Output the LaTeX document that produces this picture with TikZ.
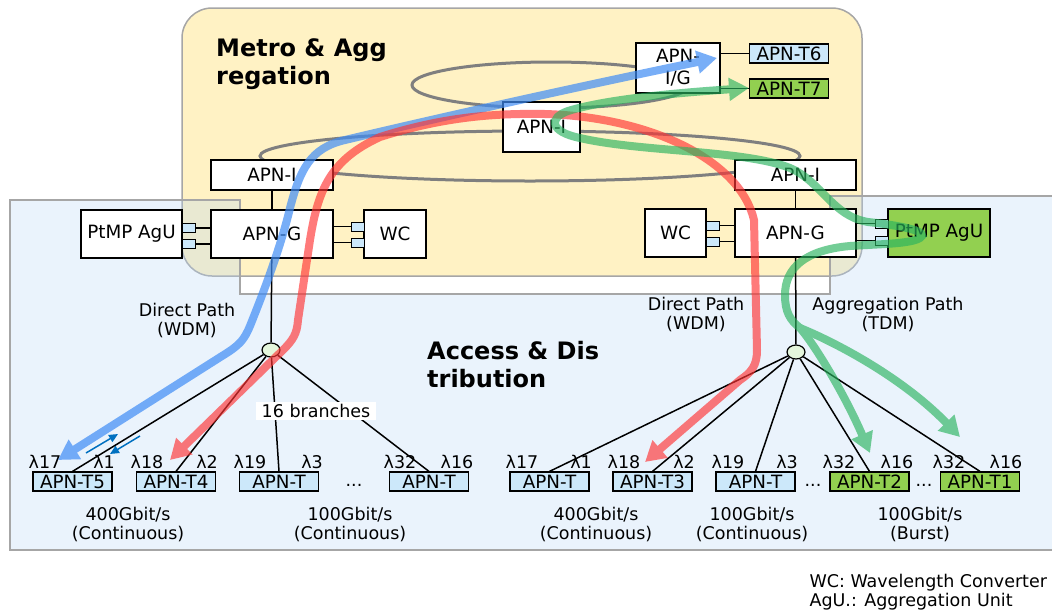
\documentclass[tikz,border=0pt]{standalone}
\usepackage{fontspec}
\setmainfont{DejaVu Sans}
\usetikzlibrary{arrows.meta,shapes.geometric}
\definecolor{metroyel}{HTML}{FFF2C4}
\definecolor{accblue}{HTML}{B9D7F5}
\definecolor{rim}{HTML}{A6A6A6}
\definecolor{ring}{HTML}{7F7F7F}
\definecolor{tblue}{HTML}{CCE8FA}
\definecolor{tgreen}{HTML}{92D050}
\definecolor{splitfill}{HTML}{E4F6DC}
\definecolor{pathblue}{HTML}{3F8CF5}
\definecolor{pathred}{HTML}{FF3333}
\definecolor{pathgreen}{HTML}{29B35E}
\definecolor{dirblue}{HTML}{0070C0}

\begin{document}
\begin{tikzpicture}[x=1pt, y=-1pt,
  txt/.style={font=\fontsize{17.5}{19}\selectfont},
  areatitle/.style={font=\fontsize{24}{28}\selectfont\bfseries, align=left, anchor=west, inner sep=0pt},
  apn/.style={font=\fontsize{18.3}{22}\selectfont, draw, line width=1.2pt, fill=white, inner sep=0pt},
  apnt/.style={apn, fill=tblue, minimum width=79pt, minimum height=19pt},
  port/.style={draw, line width=1pt, fill=tblue, minimum width=13pt, minimum height=9pt, inner sep=0pt},
  split/.style={ellipse, draw, line width=1.2pt, fill=splitfill, minimum width=18pt, minimum height=14pt, inner sep=0pt},
  wire/.style={line width=1.5pt},
  lam/.style={txt, inner sep=0pt},
  flow/.style={line width=8pt},
  bigtip/.tip={Triangle[length=20pt, width=22pt]}
]
\useasboundingbox (0,0) rectangle (1052,611);

% Areas
\draw[rim, line width=1.5pt, fill=metroyel, rounded corners=30pt] (182,8) rectangle (862,276);
\fill[accblue, fill opacity=0.3] (10,200) -- (240,200) -- (240,294) -- (830,294) -- (830,196) -- (1060,196) -- (1060,550) -- (10,550) -- cycle;
\draw[rim, line width=1.5pt] (10,200) -- (240,200) -- (240,294) -- (830,294) -- (830,196) -- (1060,196) -- (1060,550) -- (10,550) -- cycle;
\node[areatitle] (metro) at (216,64) {Metro \& Agg\\regation};
\node[areatitle] (access) at (427,365) {Access \& Dis\\tribution};

% Rings
\draw[ring, line width=3pt] (551,85) ellipse [x radius=139pt, y radius=23pt];
\draw[ring, line width=3pt] (530,156) ellipse [x radius=270pt, y radius=25pt];

% Metro nodes
\node[apn, minimum width=84pt, minimum height=50pt, align=center] (apnIG) at (678,68) {APN-\\I/G};
\node[apnt] (t6) at (789,53.5) {APN-T6};
\node[apnt, fill=tgreen] (t7) at (789,88.5) {APN-T7};
\draw[wire] (apnIG.east |- t6) -- (t6.west);
\draw[wire] (apnIG.east |- t7) -- (t7.west);
\node[apn, minimum width=77pt, minimum height=50pt] (apnIc) at (541.5,127) {APN-I};

% Left edge node
\node[apn, minimum width=122pt, minimum height=30pt] (apnIl) at (272,175) {APN-I};
\node[apn, minimum width=122pt, minimum height=48pt] (apnGl) at (272,234) {APN-G};
\node[apn, minimum width=101pt, minimum height=48pt] (agul) at (131.5,234) {PtMP AgU};
\node[apn, minimum width=62pt, minimum height=48pt] (wcl) at (395,234) {WC};
\draw[wire] (apnIl) -- (apnGl);
\node[port] (pl1) at (188.5,228) {};
\node[port] (pl2) at (188.5,244) {};
\node[port] (pw1) at (357.5,226.5) {};
\node[port] (pw2) at (357.5,242.5) {};
\draw[wire] (pl1.east) -- (pl1.east -| apnGl.west);
\draw[wire] (pl2.east) -- (pl2.east -| apnGl.west);
\draw[wire] (apnGl.east |- pw1) -- (pw1.west);
\draw[wire] (apnGl.east |- pw2) -- (pw2.west);

% Right edge node
\node[apn, minimum width=121pt, minimum height=30pt] (apnIr) at (795.5,175) {APN-I};
\node[apn, minimum width=121pt, minimum height=48pt] (apnGr) at (795.5,233) {APN-G};
\node[apn, minimum width=61pt, minimum height=48pt] (wcr) at (675.5,233) {WC};
\node[apn, minimum width=102pt, minimum height=48pt, fill=tgreen] (agur) at (939,233) {PtMP AgU};
\draw[wire] (apnIr) -- (apnGr);
\node[port] (pr1) at (712.5,225.5) {};
\node[port] (pr2) at (712.5,241.5) {};
\node[port] (pg1) at (881.5,223.5) {};
\node[port] (pg2) at (881.5,240.5) {};
\draw[wire] (pr1.east) -- (pr1.east -| apnGr.west);
\draw[wire] (pr2.east) -- (pr2.east -| apnGr.west);
\draw[wire] (apnGr.east |- pg1) -- (pg1.west);
\draw[wire] (apnGr.east |- pg2) -- (pg2.west);

% Splitters
\node[split] (spl) at (271,350) {};
\node[split] (spr) at (796,352) {};
\draw[wire] (apnGl) -- (spl);
\draw[wire] (apnGr) -- (spr);

% Left terminals
\node[apnt] (t5) at (72.5,481.5) {APN-T5};
\node[apnt] (t4) at (176,481.5) {APN-T4};
\node[apnt] (tla) at (279,481.5) {APN-T};
\node[apnt] (tlb) at (429,481.5) {APN-T};
\node[txt] (dotsl) at (354,485) {...};
\draw[wire] (spl) -- (t5.north);
\draw[wire] (spl) -- (t4.north);
\draw[wire] (spl) -- (tla.north);
\draw[wire] (spl) -- (tlb.north);
\node[txt, fill=white, inner xsep=6pt, inner ysep=2.5pt] (branches) at (316,411) {16 branches};

% Right terminals
\node[apnt] (tra) at (549.5,481.5) {APN-T};
\node[apnt] (t3) at (652.5,481.5) {APN-T3};
\node[apnt] (trb) at (755.5,481.5) {APN-T};
\node[apnt, fill=tgreen] (t2) at (869.5,481.5) {APN-T2};
\node[apnt, fill=tgreen] (t1) at (980,481.5) {APN-T1};
\node[txt] (dotsr) at (813,485) {...};
\node[txt] (dotsg) at (924,485) {...};
\draw[wire] (spr) -- (tra.north);
\draw[wire] (spr) -- (t3.north);
\draw[wire] (spr) -- (trb.north);
\draw[wire] (spr) -- (t2.north);
\draw[wire] (spr) -- (t1.north);

% Wavelengths
\node[lam] (l17a) at (45,462) {λ17};
\node[lam] (l1a) at (104,462) {λ1};
\node[lam] (l18a) at (147,462) {λ18};
\node[lam] (l2a) at (207,462) {λ2};
\node[lam] (l19a) at (250,462) {λ19};
\node[lam] (l3a) at (312,462) {λ3};
\node[lam] (l32a) at (400,462) {λ32};
\node[lam] (l16a) at (457,462) {λ16};
\node[lam] (l17b) at (522,462) {λ17};
\node[lam] (l1b) at (581,462) {λ1};
\node[lam] (l18b) at (624,462) {λ18};
\node[lam] (l2b) at (684,462) {λ2};
\node[lam] (l19b) at (728,462) {λ19};
\node[lam] (l3b) at (787,462) {λ3};
\node[lam] (l32b) at (839,462) {λ32};
\node[lam] (l16b) at (897,462) {λ16};
\node[lam] (l32c) at (949,462) {λ32};
\node[lam] (l16c) at (1006,462) {λ16};

% Rates
\node[txt, align=center] (rate1) at (128,524) {400Gbit/s\\(Continuous)};
\node[txt, align=center] (rate2) at (350,524) {100Gbit/s\\(Continuous)};
\node[txt, align=center] (rate3) at (596,524) {400Gbit/s\\(Continuous)};
\node[txt, align=center] (rate4) at (752,524) {100Gbit/s\\(Continuous)};
\node[txt, align=center] (rate5) at (920,524) {100Gbit/s\\(Burst)};

% Path labels
\node[txt, align=center] (dirl) at (187,320) {Direct Path\\(WDM)};
\node[txt, align=center] (dirr) at (696,314) {Direct Path\\(WDM)};
\node[txt, align=center] (aggr) at (888,314) {Aggregation Path\\(TDM)};

% Up/down arrows
\coordinate (upa) at (86,453);
\coordinate (upb) at (118,434);
\coordinate (dna) at (140,436);
\coordinate (dnb) at (110,454);
\draw[dirblue, line width=1.5pt, -{Triangle[length=9pt, width=8pt]}] (upa) -- (upb);
\draw[dirblue, line width=1.5pt, -{Triangle[length=9pt, width=8pt]}] (dna) -- (dnb);

% Flows
\coordinate (tipT5) at (58,460);
\coordinate (tipIG) at (717,58);
\coordinate (tipT4) at (170,460);
\coordinate (tipT3) at (645,462);
\coordinate (tipT7) at (749,88);
\coordinate (tipT2) at (870,453);
\coordinate (tipT1) at (960,437);
\begin{scope}[transparency group, opacity=0.7]
\draw[flow, draw=pathblue, bigtip-bigtip] (tipT5) -- (222,356) .. controls (240,345) and (244,340) .. (250,326) .. controls (262,296) and (280,250) .. (290,208) .. controls (300,170) and (310,148) .. (345,140) .. controls (450,115) and (600,82) .. (tipIG);
\end{scope}
\begin{scope}[transparency group, opacity=0.65]
\draw[flow, draw=pathred, bigtip-bigtip] (tipT4) -- (283,350) .. controls (293,340) and (297,334) .. (298,320) -- (310,240) .. controls (318,190) and (330,160) .. (380,137) .. controls (440,118) and (490,113) .. (545,114) .. controls (650,117) and (740,160) .. (754,220) -- (757,350) .. controls (757,365) and (752,372) .. (740,380) -- (tipT3);
\end{scope}
\begin{scope}[transparency group, opacity=0.65]
\draw[flow, draw=pathgreen, bigtip-] (tipT7) .. controls (690,92) and (610,98) .. (568,111) .. controls (548,118) and (550,132) .. (580,138) .. controls (640,152) and (745,150) .. (790,168) .. controls (822,182) and (832,216) .. (868,222) .. controls (905,226) and (930,232) .. (920,238) .. controls (910,244) and (880,244) .. (850,246) .. controls (805,250) and (785,268) .. (785,295) .. controls (785,312) and (790,320) .. (800,328) coordinate (gsplit);
\draw[flow, draw=pathgreen, -bigtip] (gsplit) .. controls (815,345) and (845,395) .. (tipT2);
\draw[flow, draw=pathgreen, -bigtip] (gsplit) .. controls (830,340) and (900,375) .. (tipT1);
\end{scope}

% Legend
\node[txt, align=left, anchor=west] (legend) at (806,592) {WC: Wavelength Converter\\AgU.: Aggregation Unit};

\end{tikzpicture}
\end{document}
